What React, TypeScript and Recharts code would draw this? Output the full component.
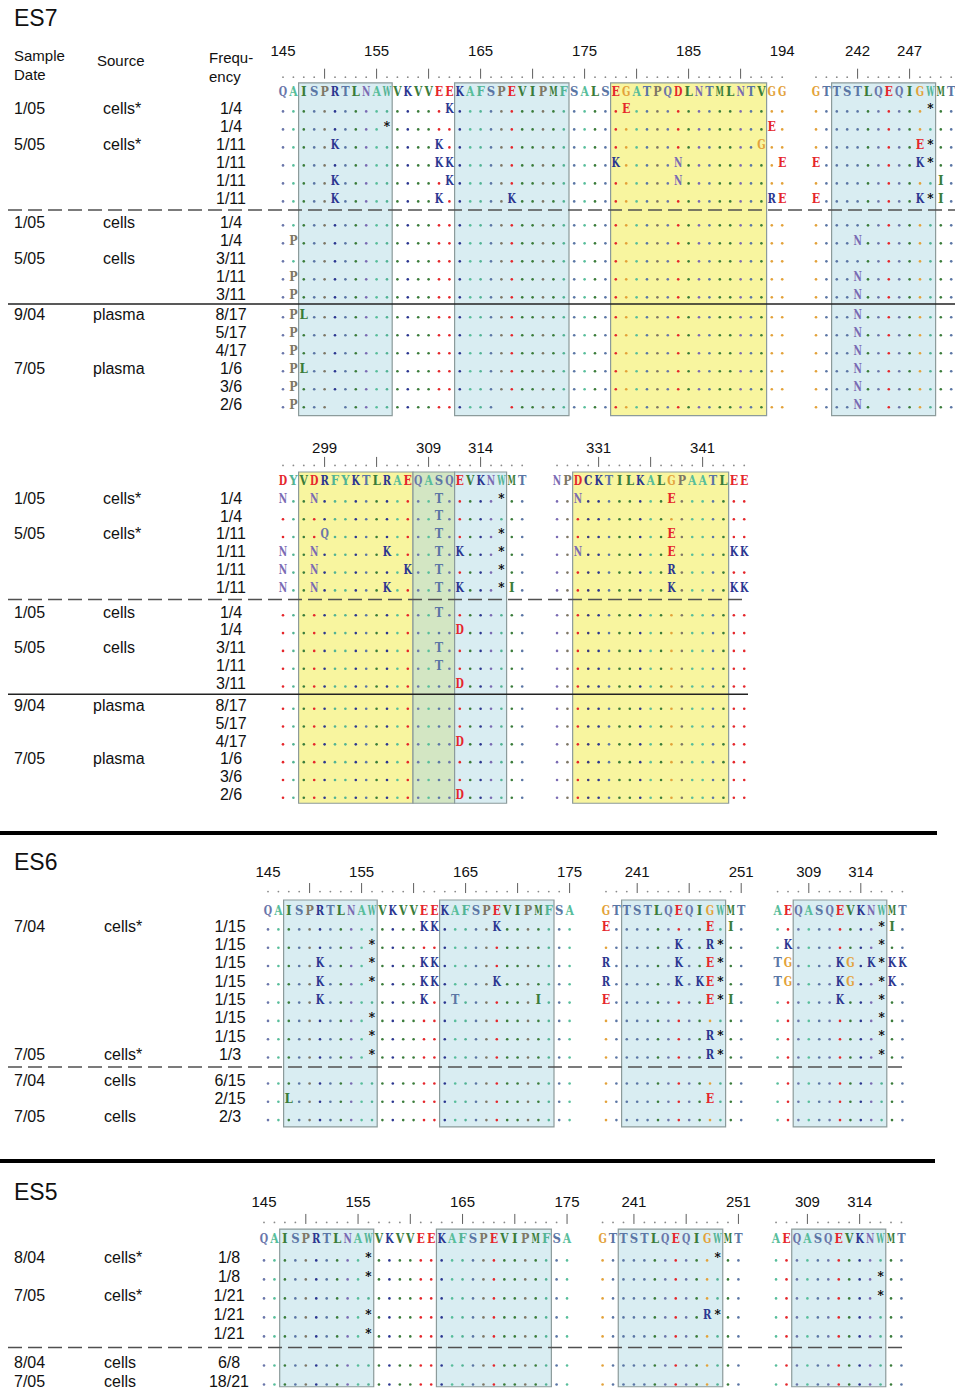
import React from "react";
import { ScatterChart, Scatter, XAxis, YAxis, ReferenceArea, ReferenceLine } from "recharts";

const PAGE_W = 955;
const PAGE_H = 1390;
const LEFT_AXIS = 255;

// ======================= DATA =======================
const PANEL_TITLES = ["ES7", "ES6", "ES5"];
const COLUMN_HEADERS = [["Sample", "Date"], ["Source"], ["Frequ-", "ency"]];

// ---- ES7, upper alignment block ----
const ES7_TOP_REF = ["QAISPRTLNAWVKVVEEKAFSPEVIPMFSALSEGATPQDLNTMLNTVGG", "GTTSTLQEQIGWMT"];
const ES7_TOP_MUT = [
  ["16K 33E", "11*"],
  ["10* 47E", ""],
  ["5K 15K 46G", "10E 11*"],
  ["15K 16K 32K 38N 48E", "0E 10K 11*"],
  ["5K 16K 38N", "12I"],
  ["5K 15K 22K 47R 48E", "0E 10K 11* 12I"],
  ["", ""],
  ["1P", "4N"],
  ["", ""],
  ["1P", "4N"],
  ["1P", "4N"],
  ["1P 2L", "4N"],
  ["1P", "4N"],
  ["1P", "4N"],
  ["1P 2L", "4N"],
  ["1P", "4N"],
  ["1P 5_ 21_", "4N 6_"],
];
const ES7_TOP_NUMBERS: [number, string][][] = [
  [[0, "145"], [9, "155"], [19, "165"], [29, "175"], [39, "185"], [48, "194"]],
  [[4, "242"], [9, "247"]],
];
const ES7_TOP_PHASES = [4, 4];
const ES7_TOP_BOXES: [number, number, number, string][] = [
  [0, 2, 10, "blue"], [0, 17, 27, "blue"], [0, 32, 46, "yellow"], [1, 2, 11, "blue"],
];

// ---- ES7, lower alignment block ----
const ES7_BOTTOM_REF = ["DYVDRFYKTLRAEQASQEVKNWMT", "NPDCKTILKALGPAATLEE"];
const ES7_BOTTOM_MUT = [
  ["0N 3N 15T 21*", "2N 11E"],
  ["15T", ""],
  ["4Q 15T 21*", "11E"],
  ["0N 3N 10K 15T 17K 21*", "2N 11E 17K 18K"],
  ["0N 3N 12K 15T 21*", "11R"],
  ["0N 3N 10K 15T 17K 21* 22I", "11K 17K 18K"],
  ["15T", ""],
  ["17D", ""],
  ["15T", ""],
  ["15T", ""],
  ["17D", ""],
  ["", ""],
  ["", ""],
  ["17D", ""],
  ["", ""],
  ["", ""],
  ["17D", ""],
];
const ES7_BOTTOM_NUMBERS: [number, string][][] = [
  [[4, "299"], [14, "309"], [19, "314"]],
  [[4, "331"], [14, "341"]],
];
const ES7_BOTTOM_PHASES = [4, 4];
const ES7_BOTTOM_BOXES: [number, number, number, string][] = [
  [0, 2, 12, "yellow"], [0, 13, 16, "green"], [0, 17, 21, "blue"], [1, 2, 16, "yellow"],
];

const ES7_FREQ = ["1/4", "1/4", "1/11", "1/11", "1/11", "1/11", "1/4", "1/4", "3/11", "1/11", "3/11", "8/17", "5/17", "4/17", "1/6", "3/6", "2/6"];
const ES7_GROUPS = [0, 0, 0, 0, 0, 0, 1, 1, 1, 1, 1, 2, 2, 2, 2, 2, 2];
const ES7_SAMPLES: [number, string, string][] = [
  [0, "1/05", "cells*"], [2, "5/05", "cells*"], [6, "1/05", "cells"], [8, "5/05", "cells"], [11, "9/04", "plasma"], [14, "7/05", "plasma"],
];
const ES7_SEPARATORS: [number, string][] = [[5, "dashed"], [10, "solid"]];

// ---- ES6 ----
const ES65_REF = ["QAISPRTLNAWVKVVEEKAFSPEVIPMFSA", "GTTSTLQEQIGWMT", "AEQASQEVKNWMT"];
const ES65_NUMBERS: [number, string][][] = [
  [[0, "145"], [9, "155"], [19, "165"], [29, "175"]],
  [[3, "241"], [13, "251"]],
  [[3, "309"], [8, "314"]],
];
const ES65_PHASES = [4, 3, 3];
const ES65_BOXES: [number, number, number, string][] = [
  [0, 2, 10, "blue"], [0, 17, 27, "blue"], [1, 2, 11, "blue"], [2, 2, 10, "blue"],
];
const ES6_MUT = [
  ["15K 16K 22K", "0E 10E 12I", "10* 11I"],
  ["10*", "7K 10R 11*", "1K 10*"],
  ["5K 10* 15K 16K", "0R 7K 10E 11*", "0T 1G 6K 7G 9K 10* 11K 12K"],
  ["5K 10* 15K 16K 22K", "0R 7K 9K 10E 11*", "0T 1G 6K 7G 10* 11K"],
  ["5K 15K 18T 26I", "0E 10E 11* 12I", "6K 10*"],
  ["10*", "", "10*"],
  ["10*", "10R 11*", "10*"],
  ["10*", "10R 11*", "10*"],
  ["", "", ""],
  ["2L", "10E", ""],
  ["", "", ""],
];
const ES6_FREQ = ["1/15", "1/15", "1/15", "1/15", "1/15", "1/15", "1/15", "1/3", "6/15", "2/15", "2/3"];
const ES6_GROUPS = [0, 0, 0, 0, 0, 0, 0, 0, 1, 1, 1];
const ES6_SAMPLES: [number, string, string][] = [
  [0, "7/04", "cells*"], [7, "7/05", "cells*"], [8, "7/04", "cells"], [10, "7/05", "cells"],
];
const ES6_SEPARATORS: [number, string][] = [[7, "dashed"]];

// ---- ES5 ----
const ES5_MUT = [
  ["10*", "11*", ""],
  ["10*", "", "10*"],
  ["", "", "10*"],
  ["10*", "10R 11*", ""],
  ["10*", "", ""],
  ["", "", ""],
  ["", "", ""],
];
const ES5_FREQ = ["1/8", "1/8", "1/21", "1/21", "1/21", "6/8", "18/21"];
const ES5_GROUPS = [0, 0, 0, 0, 0, 1, 1];
const ES5_SAMPLES: [number, string, string][] = [
  [0, "8/04", "cells*"], [2, "7/05", "cells*"], [5, "8/04", "cells"], [6, "7/05", "cells"],
];
const ES5_SEPARATORS: [number, string][] = [[4, "dashed"]];

// ======================= STYLE / LAYOUT =======================
const SEQ_FONT = "'DejaVu Serif', 'Liberation Serif', serif";
const SEQ_SIZE = 12;
const SEQ_MAX_W = 8.4;
const SANS = "'Liberation Sans', Arial, Helvetica, sans-serif";

const RES_COLOR: Record<string, string> = {
  K: "#2b3690", R: "#2b3690", H: "#2b3690",
  E: "#e5262b", D: "#e5262b",
  G: "#e3a23a",
  N: "#7a6bb3", Q: "#6a76aa",
  S: "#5b76a5", T: "#5b76a5",
  A: "#58be9b",
  V: "#3a7c3a", I: "#3a7c3a", L: "#3a7c3a", M: "#3a7c3a",
  F: "#52b394", W: "#52b394", Y: "#52b394",
  C: "#38387f",
  P: "#7e7766",
  "*": "#000000",
};
const colorOf = (c: string) => RES_COLOR[c] || "#333333";

const BOX_FILL: Record<string, string> = { blue: "#d9edf2", yellow: "#f8f59f", green: "#d3e6c3" };

// measure glyph widths once so wide serif capitals can be narrowed to a monospace-like cell
let measureCtx: CanvasRenderingContext2D | null = null;
const widthCache = new Map<string, number>();
function glyphScale(ch: string): number {
  if (widthCache.has(ch)) return widthCache.get(ch)!;
  let w = 8;
  try {
    if (!measureCtx && typeof document !== "undefined") measureCtx = document.createElement("canvas").getContext("2d");
    if (measureCtx) {
      measureCtx.font = `bold ${SEQ_SIZE}px ${SEQ_FONT}`;
      w = measureCtx.measureText(ch).width || 8;
    }
  } catch (e) {
    w = 8;
  }
  const s = Math.min(1, SEQ_MAX_W / w);
  widthCache.set(ch, s);
  return s;
}

type Layout = {
  chartTop: number; plotTop: number; chartBottom: number;
  x0: number; pitch: number; y0: number; rowPitch: number;
  groupShift: number[]; rulerRow: number; refRow: number; numbersY: number;
  sepRight: number; freqX: number; segOffsets: number[];
  boxTopPad: number; boxBottomPad: number; sourceX: Record<string, number>;
};

const L_ES7A: Layout = {
  chartTop: 30, plotTop: 62, chartBottom: 425, x0: 283, pitch: 10.4, y0: 108, rowPitch: 18,
  groupShift: [0, 0.33, 0.44], rulerRow: -1.85, refRow: -0.9, numbersY: 51, sepRight: 955, freqX: 231,
  segOffsets: [0, 51.25], boxTopPad: 0.5, boxBottomPad: 0.65, sourceX: { cells: 103, plasma: 93 },
};
const L_ES7B: Layout = {
  chartTop: 430, plotTop: 452, chartBottom: 810, x0: 283, pitch: 10.4, y0: 498, rowPitch: 17.8,
  groupShift: [0, 0.4, 0.65], rulerRow: -1.97, refRow: -1.01, numbersY: 448, sepRight: 748, freqX: 231,
  segOffsets: [0, 26.35], boxTopPad: 0.45, boxBottomPad: 0.5, sourceX: { cells: 103, plasma: 93 },
};
const L_ES6: Layout = {
  chartTop: 850, plotTop: 878, chartBottom: 1140, x0: 268, pitch: 10.4, y0: 926, rowPitch: 18.3,
  groupShift: [0, 0.42], rulerRow: -2.02, refRow: -0.87, numbersY: 872, sepRight: 908, freqX: 230,
  segOffsets: [0, 32.5, 49], boxTopPad: 0.55, boxBottomPad: 0.56, sourceX: { cells: 104, plasma: 94 },
};
const L_ES5: Layout = {
  chartTop: 1180, plotTop: 1209, chartBottom: 1390, x0: 264, pitch: 10.45, y0: 1257, rowPitch: 19,
  groupShift: [0, 0.53], rulerRow: -1.95, refRow: -1.0, numbersY: 1202, sepRight: 907, freqX: 229,
  segOffsets: [0, 32.4, 49], boxTopPad: 0.47, boxBottomPad: 0.3, sourceX: { cells: 104, plasma: 94 },
};

type Block = {
  refs: string[]; muts: string[][]; numbers: [number, string][][]; phases: number[];
  boxes: [number, number, number, string][]; freq: string[]; groups: number[];
  samples: [number, string, string][]; separators: [number, string][];
};

function parseMut(s: string): Map<number, string> {
  const m = new Map<number, string>();
  s.trim().split(/\s+/).filter(Boolean).forEach((t) => {
    const col = parseInt(t, 10);
    m.set(col, t.replace(/^\d+/, ""));
  });
  return m;
}

function Glyph(props: any) {
  const { cx, cy } = props;
  const p = props.payload || props;
  if (cx == null || cy == null || !p) return <g />;
  if (p.kind === "tick") return <line x1={cx} x2={cx} y1={cy - 6} y2={cy + 4} stroke="#5e5e5e" strokeWidth={1} />;
  if (p.kind === "rdot") return <circle cx={cx} cy={cy + 2.5} r={0.9} fill="#8a8a8a" />;
  if (p.kind === "dot") return <circle cx={cx} cy={cy + 3.4} r={1.3} fill={p.color} />;
  const s = glyphScale(p.ch);
  return (
    <text
      transform={`translate(${cx},${cy + 4.6}) scale(${s},1)`}
      x={0} y={0} textAnchor="middle" fontFamily={SEQ_FONT} fontWeight="bold" fontSize={SEQ_SIZE} fill={p.color}
    >
      {p.ch}
    </text>
  );
}

function AlignmentBlock({ block, L }: { block: Block; L: Layout }) {
  const rowYs = block.freq.map((_, i) => i + L.groupShift[block.groups[i]]);
  const points: any[] = [];
  block.refs.forEach((ref, s) => {
    const off = L.segOffsets[s];
    for (let c = 0; c < ref.length; c++) {
      points.push({ x: off + c, y: L.rulerRow, kind: c % 5 === block.phases[s] ? "tick" : "rdot" });
      points.push({ x: off + c, y: L.refRow, kind: "letter", ch: ref[c], color: colorOf(ref[c]) });
    }
  });
  block.muts.forEach((row, r) => {
    row.forEach((m, s) => {
      const ref = block.refs[s];
      const off = L.segOffsets[s];
      const changes = parseMut(m);
      for (let c = 0; c < ref.length; c++) {
        const ch = changes.get(c);
        if (ch === "_") continue;
        if (ch) points.push({ x: off + c, y: rowYs[r], kind: "letter", ch, color: colorOf(ch) });
        else points.push({ x: off + c, y: rowYs[r], kind: "dot", color: colorOf(ref[c]) });
      }
    });
  });

  const height = L.chartBottom - L.chartTop;
  const hx = L.plotTop - L.chartTop;
  const xDomain: [number, number] = [(LEFT_AXIS - L.x0) / L.pitch, (PAGE_W - L.x0) / L.pitch];
  const yDomain: [number, number] = [(L.plotTop - L.y0) / L.rowPitch, (L.chartBottom - L.y0) / L.rowPitch];

  const numberTicks: number[] = [];
  const numberLabels = new Map<string, string>();
  block.numbers.forEach((seg, s) =>
    seg.forEach(([c, label]) => {
      const v = L.segOffsets[s] + c;
      numberTicks.push(v);
      numberLabels.set(v.toFixed(3), label);
    })
  );
  const numDy = L.numbersY + 5.4 - L.plotTop;

  const samplesByRow = new Map<number, [string, string]>();
  block.samples.forEach(([r, d, src]) => samplesByRow.set(r, [d, src]));

  const boxTop = L.refRow - L.boxTopPad;
  const boxBottom = rowYs[rowYs.length - 1] + L.boxBottomPad;
  const sepLeft = (8 - L.x0) / L.pitch;
  const sepRight = (L.sepRight - L.x0) / L.pitch;

  const NumberTick = (props: any) => {
    const { x, y, payload } = props;
    const label = numberLabels.get(Number(payload.value).toFixed(3)) || "";
    return (
      <text x={x} y={y + numDy} textAnchor="middle" fontFamily={SANS} fontSize={15} fill="#111">
        {label}
      </text>
    );
  };

  const RowTick = (props: any) => {
    const { y, payload } = props;
    const idx = rowYs.findIndex((v) => Math.abs(v - Number(payload.value)) < 1e-6);
    if (idx < 0) return <g />;
    const sample = samplesByRow.get(idx);
    const srcKey = sample ? sample[1].replace("*", "") : "";
    return (
      <g>
        {sample && (
          <text x={14} y={y + 5.7} fontFamily={SANS} fontSize={16} fill="#111">{sample[0]}</text>
        )}
        {sample && (
          <text x={L.sourceX[srcKey] ?? 103} y={y + 5.7} fontFamily={SANS} fontSize={16} fill="#111">{sample[1]}</text>
        )}
        <text x={L.freqX} y={y + 5.7} textAnchor="middle" fontFamily={SANS} fontSize={16} fill="#111">
          {block.freq[idx]}
        </text>
      </g>
    );
  };

  return (
    <div style={{ position: "absolute", left: 0, top: L.chartTop, width: PAGE_W, height }}>
      <ScatterChart width={PAGE_W} height={height} margin={{ top: 0, right: 0, bottom: 0, left: 0 }}>
        <XAxis
          type="number" dataKey="x" orientation="top" domain={xDomain} height={hx}
          ticks={numberTicks} interval={0} tick={NumberTick}
          axisLine={false} tickLine={false} tickSize={0} tickMargin={0}
        />
        <YAxis
          type="number" dataKey="y" domain={yDomain} reversed width={LEFT_AXIS}
          ticks={rowYs} interval={0} tick={RowTick}
          axisLine={false} tickLine={false} tickSize={0} tickMargin={0}
        />
        {block.boxes.map(([s, a, b, kind], i) => (
          <ReferenceArea
            key={"box" + i}
            x1={L.segOffsets[s] + a - 0.5} x2={L.segOffsets[s] + b + 0.5}
            y1={boxTop} y2={boxBottom}
            fill={BOX_FILL[kind]} fillOpacity={1} stroke="#8c9b9b" strokeWidth={1.2}
            ifOverflow="visible"
          />
        ))}
        {block.separators.map(([r, style], i) => {
          const yv = (rowYs[r] + rowYs[r + 1]) / 2;
          return (
            <ReferenceLine
              key={"sep" + i}
              segment={[{ x: sepLeft, y: yv }, { x: sepRight, y: yv }]}
              stroke={style === "dashed" ? "#505050" : "#222"}
              strokeWidth={1.5}
              strokeDasharray={style === "dashed" ? "14 6" : undefined}
              ifOverflow="visible"
            />
          );
        })}
        <Scatter data={points} shape={Glyph} isAnimationActive={false} />
      </ScatterChart>
    </div>
  );
}

const ES7_TOP: Block = {
  refs: ES7_TOP_REF, muts: ES7_TOP_MUT, numbers: ES7_TOP_NUMBERS, phases: ES7_TOP_PHASES,
  boxes: ES7_TOP_BOXES, freq: ES7_FREQ, groups: ES7_GROUPS, samples: ES7_SAMPLES, separators: ES7_SEPARATORS,
};
const ES7_BOTTOM: Block = {
  refs: ES7_BOTTOM_REF, muts: ES7_BOTTOM_MUT, numbers: ES7_BOTTOM_NUMBERS, phases: ES7_BOTTOM_PHASES,
  boxes: ES7_BOTTOM_BOXES, freq: ES7_FREQ, groups: ES7_GROUPS, samples: ES7_SAMPLES, separators: ES7_SEPARATORS,
};
const ES6_BLOCK: Block = {
  refs: ES65_REF, muts: ES6_MUT, numbers: ES65_NUMBERS, phases: ES65_PHASES,
  boxes: ES65_BOXES, freq: ES6_FREQ, groups: ES6_GROUPS, samples: ES6_SAMPLES, separators: ES6_SEPARATORS,
};
const ES5_BLOCK: Block = {
  refs: ES65_REF, muts: ES5_MUT, numbers: ES65_NUMBERS, phases: ES65_PHASES,
  boxes: ES65_BOXES, freq: ES5_FREQ, groups: ES5_GROUPS, samples: ES5_SAMPLES, separators: ES5_SEPARATORS,
};

export default function App() {
  return (
    <div style={{ position: "absolute", left: 0, top: 0, width: PAGE_W, height: PAGE_H, background: "#fff", overflow: "hidden" }}>
      <svg width={PAGE_W} height={PAGE_H} style={{ position: "absolute", left: 0, top: 0 }}>
        <g fontFamily={SANS} fill="#111">
          <text x={14} y={26} fontSize={23}>{PANEL_TITLES[0]}</text>
          <text x={14} y={61} fontSize={15}>{COLUMN_HEADERS[0][0]}</text>
          <text x={14} y={80} fontSize={15}>{COLUMN_HEADERS[0][1]}</text>
          <text x={97} y={66} fontSize={15}>{COLUMN_HEADERS[1][0]}</text>
          <text x={209} y={63} fontSize={15}>{COLUMN_HEADERS[2][0]}</text>
          <text x={209} y={82} fontSize={15}>{COLUMN_HEADERS[2][1]}</text>
          <text x={14} y={870} fontSize={23}>{PANEL_TITLES[1]}</text>
          <text x={14} y={1200} fontSize={23}>{PANEL_TITLES[2]}</text>
        </g>
        <rect x={0} y={831} width={937} height={4} fill="#000" />
        <rect x={0} y={1159} width={935} height={4} fill="#000" />
      </svg>
      <AlignmentBlock block={ES7_TOP} L={L_ES7A} />
      <AlignmentBlock block={ES7_BOTTOM} L={L_ES7B} />
      <AlignmentBlock block={ES6_BLOCK} L={L_ES6} />
      <AlignmentBlock block={ES5_BLOCK} L={L_ES5} />
    </div>
  );
}
